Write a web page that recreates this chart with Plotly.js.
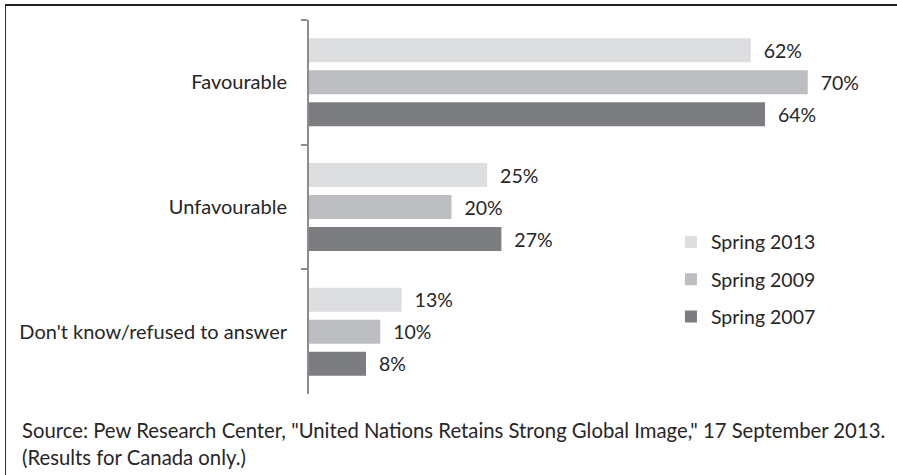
<!DOCTYPE html>
<html>
<head>
<meta charset="utf-8">
<script src="https://cdn.plot.ly/plotly-3.0.1.min.js"></script>
<style>
html,body{margin:0;padding:0;background:#fff;}
#wrap{position:relative;width:897px;height:475px;}
#chart{position:absolute;left:0;top:0;width:897px;height:475px;}
#frame{position:absolute;left:5px;top:4px;width:892px;height:471px;border-top:2px solid #222;border-left:1px solid #333;box-sizing:border-box;pointer-events:none;}
</style>
</head>
<body>
<div id="wrap"><div id="chart"></div><div id="frame"></div></div>
<script>
const categories = ["Favourable", "Unfavourable", "Don't know/refused to answer"];
const seriesNames = ["Spring 2013", "Spring 2009", "Spring 2007"];
const spring2013 = [62, 25, 13];
const spring2009 = [70, 20, 10];
const spring2007 = [64, 27, 8];
const seriesColors = ["#dcdddf", "#bdbec1", "#7c7d81"];
const sourceLine1 = "Source: Pew Research Center, \"United Nations Retains Strong Global Image,\" 17 September 2013.";
const sourceLine2 = "(Results for Canada only.)";

const FONT = "Lato, 'Open Sans', sans-serif";
const TXT = "#262626";
const values = [spring2013, spring2009, spring2007];

const traces = values.map((v, i) => ({
  type: "bar",
  orientation: "h",
  name: seriesNames[i],
  legendgroup: "g" + i,
  x: v,
  y: categories,
  marker: {color: seriesColors[i], line: {width: 0}},
  text: v.map(d => "\u00a0\u00a0" + d + "%"),
  textposition: "outside",
  textfont: {family: FONT, size: 19.5, color: TXT},
  cliponaxis: false,
  hoverinfo: "skip"
}));

const layout = {
  width: 897, height: 475,
  margin: {l: 309, r: 18, t: 20, b: 81},
  paper_bgcolor: "#fff", plot_bgcolor: "#fff",
  font: {family: FONT, size: 20, color: TXT},
  barmode: "group",
  bargap: 0.23,
  bargroupgap: 0.25,
  showlegend: true,
  legend: {
    x: 0.635, y: 0.458, xanchor: "left", yanchor: "top",
    font: {family: FONT, size: 19.5, color: TXT},
    traceorder: "grouped",
    tracegroupgap: 9,
    bgcolor: "rgba(0,0,0,0)",
    itemclick: false
  },
  xaxis: {
    range: [0, 80],
    showgrid: false, zeroline: false, showline: false,
    showticklabels: false, ticks: ""
  },
  yaxis: {
    autorange: "reversed",
    showgrid: false, zeroline: false,
    showline: true, linecolor: "#8c8c8c", linewidth: 2,
    ticks: "outside", tickson: "boundaries", ticklen: 6, tickwidth: 2, tickcolor: "#8c8c8c",
    ticklabelstandoff: 16,
    tickfont: {family: FONT, size: 20, color: TXT}
  },
  annotations: [
    {text: sourceLine1, xref: "paper", yref: "paper", x: (20 - 309) / 570, y: (394 - 430) / 374,
     xanchor: "left", yanchor: "middle", showarrow: false, align: "left",
     font: {family: FONT, size: 20.3, color: TXT}},
    {text: sourceLine2, xref: "paper", yref: "paper", x: (20 - 309) / 570, y: (394 - 457) / 374,
     xanchor: "left", yanchor: "middle", showarrow: false, align: "left",
     font: {family: FONT, size: 20.3, color: TXT}}
  ]
};

Plotly.newPlot("chart", traces, layout, {displayModeBar: false, staticPlot: true});
</script>
</body>
</html>
